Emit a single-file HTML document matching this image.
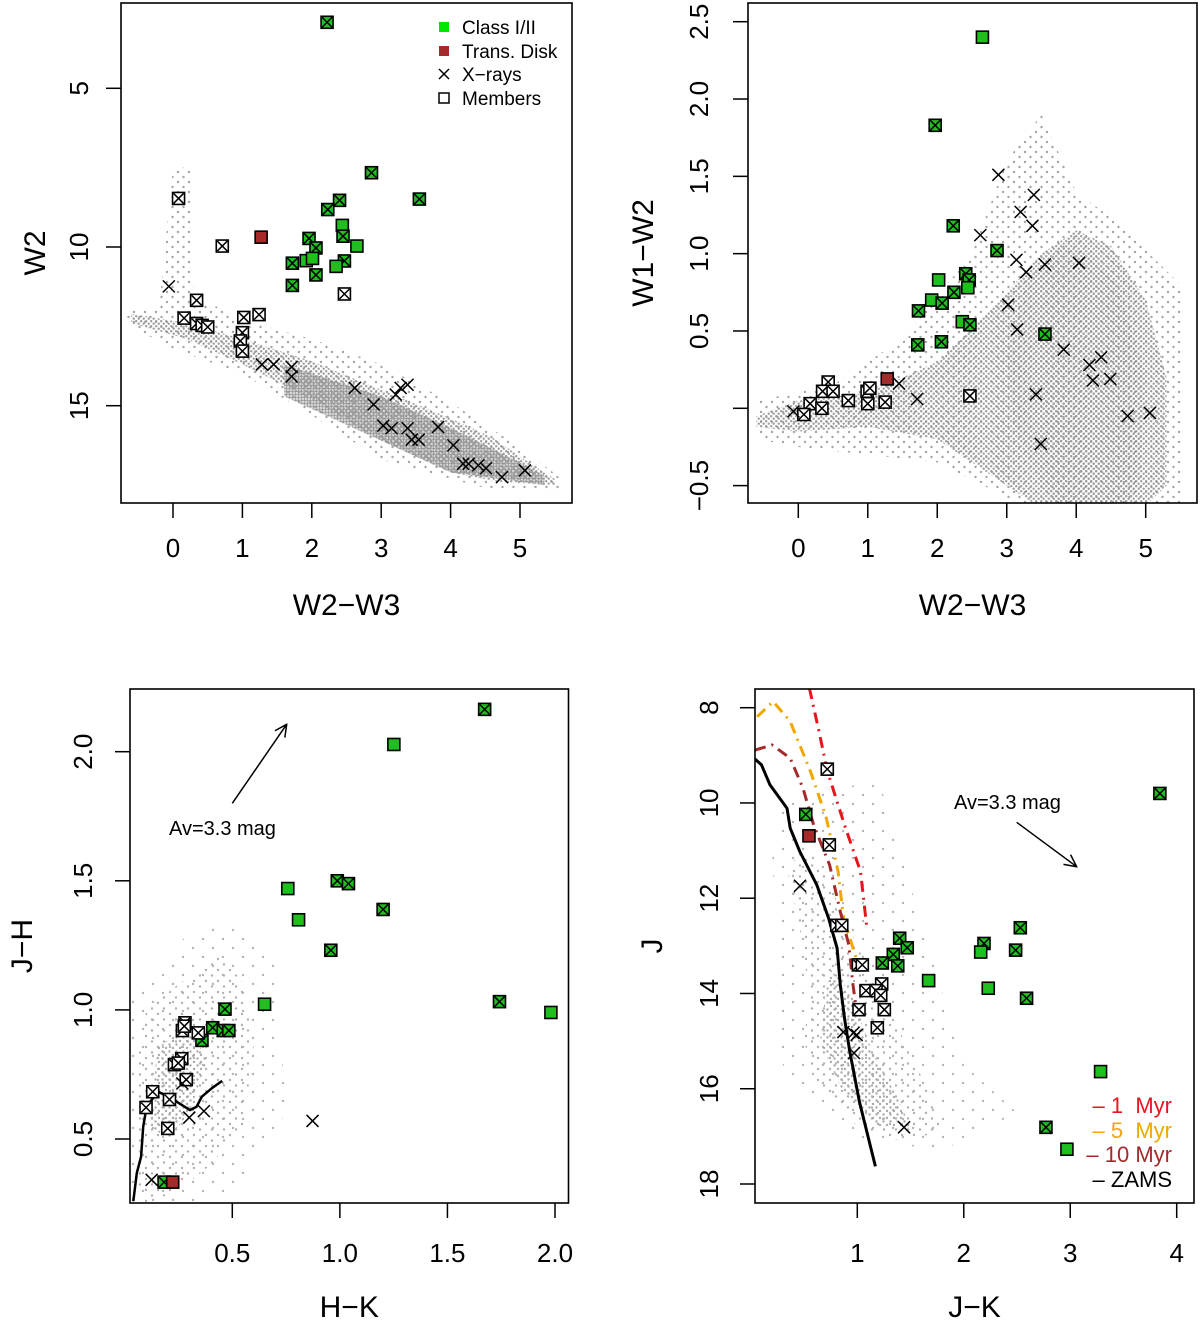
<!DOCTYPE html>
<html><head><meta charset="utf-8"><title>YSO diagrams</title>
<style>
html,body{margin:0;padding:0;background:#fff;}
svg{display:block;font-family:"Liberation Sans",Arial,sans-serif;}
</style></head>
<body>
<svg id="fig" width="1200" height="1326" viewBox="0 0 1200 1326" xmlns="http://www.w3.org/2000/svg">
<defs>
<pattern id="dotsDense" width="3" height="3" patternUnits="userSpaceOnUse"><circle cx="1.5" cy="1.5" r="1.35" fill="#989898"/></pattern>
<pattern id="dotsMed" width="5" height="5" patternUnits="userSpaceOnUse"><circle cx="1.2" cy="1.2" r="1.2" fill="#9c9c9c"/><circle cx="3.7" cy="3.7" r="1.2" fill="#9c9c9c"/></pattern>
<pattern id="dotsSparse" width="11" height="10" patternUnits="userSpaceOnUse"><circle cx="2" cy="2" r="1.2" fill="#a4a4a4"/><circle cx="7.5" cy="7" r="1.2" fill="#a4a4a4"/></pattern>
<pattern id="dotsLightMed" width="7" height="7" patternUnits="userSpaceOnUse"><circle cx="1.5" cy="1.5" r="1.2" fill="#aaaaaa"/><circle cx="5" cy="5" r="1.2" fill="#aaaaaa"/></pattern>
<pattern id="dotsLight" width="12" height="11" patternUnits="userSpaceOnUse"><circle cx="2" cy="2" r="1.2" fill="#b0b0b0"/><circle cx="8" cy="7.5" r="1.2" fill="#b0b0b0"/></pattern>
<pattern id="dotsVeryLight" width="20" height="18" patternUnits="userSpaceOnUse"><circle cx="3" cy="3" r="1.2" fill="#b4b4b4"/><circle cx="13" cy="12" r="1.2" fill="#b4b4b4"/></pattern>
<marker id="arrowHead" markerWidth="14" markerHeight="14" refX="13" refY="7" orient="auto" markerUnits="userSpaceOnUse"><path d="M1,1 L13,7 L1,13" fill="none" stroke="#000" stroke-width="1.5"/></marker>
</defs>
</svg>
<script>
// ---------- Panel 1: W2 vs W2-W3 ----------
const p1Types=['GX','GX','GX','GX','GX','G','GX','R','GX','G','GX','G','G','GX','GX','G','GX','GX',
'WX','WX','WX','WX','WX','WX','WX','WX','WX','WX','WX','WX','WX',
'X','X','X','X','X','X','X','X','X','X','X','X','X','X','X','X','X','X','X','X','X','X','X'];
const p1X=[2.22,2.86,3.55,2.40,2.23,2.44,2.45,1.27,1.96,2.65,2.06,1.92,2.01,1.72,2.47,2.35,2.06,1.72,
0.08,0.71,2.47,0.34,0.16,0.34,0.42,0.50,1.02,1.24,1.00,0.97,1.00,
-0.06,1.28,1.45,1.71,1.71,2.62,2.89,3.21,3.28,3.38,3.03,3.15,3.38,3.44,3.54,3.82,4.04,4.18,4.26,4.40,4.51,4.74,5.07];
const p1Y=[2.92,7.66,8.49,8.53,8.82,9.32,9.66,9.69,9.73,9.97,10.03,10.43,10.36,10.51,10.44,10.61,10.88,11.21,
8.47,9.97,11.48,11.68,12.24,12.41,12.47,12.52,12.22,12.13,12.70,12.96,13.28,
11.24,13.70,13.70,13.78,14.08,14.44,14.96,14.65,14.44,14.34,15.63,15.71,15.71,16.07,16.07,15.67,16.25,16.83,16.83,16.88,16.97,17.25,17.04];
const p1XTicks=[0,1,2,3,4,5];
const p1YTicks=[5,10,15];
const p1FieldSparseX=[-0.7,-0.2,0.0,0.25,0.3,1.0,2.0,3.0,4.0,5.0,5.6,5.6,4.5,3.0,2.0,1.0,0.0,-0.7];
const p1FieldSparseY=[12.0,11.9,7.5,7.5,11.5,12.3,12.9,13.7,14.9,16.3,17.3,17.7,17.6,16.7,15.3,14.0,13.2,12.4];
const p1FieldMedX=[-0.6,0.2,1.0,2.0,3.0,4.0,4.6,5.2,5.5,5.5,4.7,4.0,3.0,2.0,1.0,0.2,-0.6];
const p1FieldMedY=[12.1,12.4,12.9,13.6,14.5,15.4,16.0,16.9,17.3,17.5,17.4,17.1,16.1,14.8,13.7,12.9,12.4];
const p1FieldDenseX=[1.6,3.0,4.0,5.0,5.35,5.35,4.0,3.0,1.6];
const p1FieldDenseY=[13.7,14.7,15.7,16.8,17.2,17.5,17.1,16.1,14.7];

// ---------- Panel 2: W1-W2 vs W2-W3 ----------
const p2Types=['G','GX','GX','GX','G','GX','GX','G','GX','G','GX','GX','G','GX','GX','GX','GX','R',
'WX','WX','WX','WX','WX','WX','WX','WX','WX','WX','WX','WX',
'X','X','X','X','X','X','X','X','X','X','X','X','X','X','X','X','X','X','X','X','X','X','X'];
const p2X=[2.65,1.97,2.23,2.86,2.02,2.41,2.46,2.44,2.24,1.92,2.07,1.73,2.36,2.47,3.55,2.06,1.72,1.28,
0.43,0.35,0.50,0.17,0.08,0.34,0.72,0.99,1.03,1.00,1.25,2.47,
-0.07,1.45,1.71,2.88,3.39,3.20,3.37,2.62,3.14,3.28,3.55,4.04,3.02,3.15,3.82,4.19,4.36,4.24,4.49,3.42,4.74,5.06,3.49];
const p2Y=[2.40,1.83,1.18,1.02,0.83,0.87,0.83,0.78,0.75,0.70,0.68,0.63,0.56,0.54,0.48,0.43,0.41,0.19,
0.17,0.11,0.11,0.03,-0.04,0.00,0.05,0.11,0.13,0.03,0.04,0.08,
-0.02,0.16,0.06,1.51,1.38,1.27,1.18,1.12,0.96,0.88,0.93,0.94,0.67,0.51,0.38,0.28,0.33,0.18,0.19,0.09,-0.05,-0.03,-0.23];
const p2XTicks=[0,1,2,3,4,5];
const p2YTicks=[2.5,2.0,1.5,1.0,0.5,0.0,-0.5];
const p2YTickLabels=['2.5','2.0','1.5','1.0','0.5','','\u22120.5'];
const p2FieldSparseX=[-0.6,0.5,1.5,2.5,3.0,3.5,4.0,4.6,5.5,5.5,4.0,2.0,0.0,-0.6];
const p2FieldSparseY=[0.05,0.15,0.45,1.0,1.6,1.9,1.4,1.2,0.8,-0.8,-0.8,-0.35,-0.25,-0.2];
const p2FieldMedX=[-0.6,0.0,1.0,2.0,2.8,3.5,4.0,4.5,5.0,5.3,5.3,4.6,4.0,3.0,2.0,1.0,0.0,-0.6];
const p2FieldMedY=[-0.05,0.05,0.1,0.3,0.65,1.0,1.15,1.05,0.7,0.2,-0.5,-0.8,-0.8,-0.5,-0.2,-0.12,-0.15,-0.12];
const p2FieldDenseX=[3.3,3.8,4.2,4.6,5.0,4.9,4.5,4.0,3.5,3.1,3.0];
const p2FieldDenseY=[0.85,1.05,1.0,0.8,0.2,-0.5,-0.8,-0.75,-0.5,-0.1,0.35];

// ---------- Panel 3: J-H vs H-K ----------
const p3Types=['GX','G','G','GX','GX','GX','G','GX','GX','G','G','GX','GX','GX','GX','GX','GX','R',
'WX','WX','WX','WX','WX','WX','WX','WX','WX','WX','WX','WX',
'X','X','X','X','X'];
const p3X=[1.673,1.251,0.758,0.988,1.040,1.201,0.808,0.958,1.742,1.981,0.650,0.466,0.409,0.458,0.484,0.359,0.183,0.223,
0.280,0.268,0.342,0.277,0.265,0.231,0.249,0.286,0.130,0.208,0.099,0.200,
0.268,0.300,0.368,0.873,0.125];
const p3Y=[2.164,2.028,1.470,1.500,1.489,1.389,1.349,1.231,1.032,0.990,1.022,1.003,0.931,0.920,0.920,0.882,0.333,0.333,
0.950,0.920,0.911,0.937,0.811,0.788,0.794,0.730,0.683,0.653,0.622,0.541,
0.715,0.583,0.608,0.570,0.342];
const p3LineX=[0.040,0.056,0.076,0.086,0.098,0.118,0.156,0.218,0.303,0.334,0.358,0.404,0.453];
const p3LineY=[0.259,0.368,0.432,0.548,0.606,0.644,0.683,0.657,0.612,0.625,0.664,0.696,0.725];
const p3XTicks=[0.5,1.0,1.5,2.0];
const p3YTicks=[0.5,1.0,1.5,2.0];
const p3FieldSparseX=[0.03,0.03,0.3,0.5,0.7,0.75,0.5,0.2];
const p3FieldSparseY=[0.25,1.05,1.3,1.35,1.2,0.6,0.3,0.22];
const p3FieldMedX=[0.05,0.05,0.1,0.25,0.45,0.55,0.6,0.55,0.4,0.25,0.1];
const p3FieldMedY=[0.35,0.75,1.0,1.1,1.22,1.1,0.85,0.55,0.4,0.3,0.25];
const p3FieldDenseX=[0.12,0.15,0.3,0.38,0.3,0.2];
const p3FieldDenseY=[0.55,0.85,0.95,0.8,0.6,0.5];

// ---------- Panel 4: J vs J-K ----------
const p4Types=['GX','WX','GX','R','WX','WX','WX','GX','GX','GX','GX','G','GX','GX','GX','GX','WX','WX','G','G','GX',
'WX','WX','WX','WX','WX','WX','WX','G','GX','G','X','X','X','X','X','X'];
const p4X=[3.842,0.718,0.516,0.546,0.737,0.807,0.854,2.531,1.398,1.469,2.190,2.159,2.487,1.338,1.235,1.380,1.010,1.047,1.670,2.230,2.590,
1.082,1.229,1.176,1.220,1.254,1.016,1.188,3.285,2.772,2.969,0.462,0.869,0.994,0.963,0.969,1.439];
const p4Y=[9.80,9.29,10.24,10.69,10.88,12.57,12.57,12.62,12.84,13.04,12.95,13.13,13.09,13.18,13.36,13.42,13.40,13.40,13.73,13.89,14.10,
13.94,13.80,13.94,14.04,14.34,14.34,14.72,15.64,16.81,17.27,11.74,14.81,14.87,14.83,15.25,16.81];
const zamsX=[0.04,0.10,0.18,0.34,0.37,0.46,0.62,0.73,0.81,0.84,0.88,0.93,1.02,1.17];
const zamsY=[9.08,9.20,9.62,10.11,10.53,11.02,11.72,12.42,13.05,13.82,14.52,15.22,16.27,17.63];
const iso1X=[0.55,0.64,0.72,0.88,1.03,1.09];
const iso1Y=[7.59,8.50,9.34,10.46,11.44,12.63];
const iso5X=[0.06,0.21,0.37,0.56,0.71,0.82,0.87,0.99,1.04];
const iso5Y=[8.19,7.87,8.29,9.34,10.32,11.44,12.42,13.26,13.47];
const iso10X=[0.04,0.20,0.37,0.49,0.59,0.74,0.84,0.92,0.96,0.99];
const iso10Y=[8.89,8.78,9.06,9.69,10.46,11.30,12.28,12.98,13.82,14.31];
const p4XTicks=[1,2,3,4];
const p4YTicks=[8,10,12,14,16,18];
const p4FieldSparseX=[0.3,1.2,1.6,2.0,2.5,1.8,0.9,0.3,0.2];
const p4FieldSparseY=[10.0,9.5,12.5,15.5,16.5,17.3,17.0,15.5,11.0];
const p4FieldMedX=[0.45,0.65,0.9,1.1,1.4,1.7,1.8,1.4,1.0,0.6,0.5,0.55,0.45,0.35];
const p4FieldMedY=[11.0,11.3,12.5,13.5,14.8,16.2,16.9,17.1,16.8,15.8,15.0,14.0,12.5,11.5];
const p4FieldDenseX=[0.75,0.95,1.1,1.4,1.5,1.2,0.85,0.65,0.7];
const p4FieldDenseY=[13.5,14.0,15.0,16.3,16.8,16.8,16.0,15.0,14.0];

// ---------- helpers ----------
const NS='http://www.w3.org/2000/svg';
const svg=document.getElementById('fig');
function el(tag,attrs,parent){const e=document.createElementNS(NS,tag);for(const k in attrs)e.setAttribute(k,attrs[k]);(parent||svg).appendChild(e);return e;}
function lin(v0,p0,v1,p1){return v=>p0+(v-v0)*(p1-p0)/(v1-v0);}
const GREEN='#1fbf1f', RED='#a52a2a';

function drawField(g,sx,sy,xs,ys,fill,name){
  const pts=xs.map((x,i)=>sx(x).toFixed(1)+','+sy(ys[i]).toFixed(1)).join(' ');
  const p=el('polygon',{points:pts,fill:fill,stroke:'none'},g);
  
  
}
function drawMarker(g,type,cx,cy){
  const h=6;
  if(type!=='X'){
    const fill=type==='R'?RED:(type==='WX'?'#fff':GREEN);
    const r=el('rect',{x:cx-h,y:cy-h,width:2*h,height:2*h,fill:fill,stroke:'#000','stroke-width':1.6},g);
    
    
  }
  if(type==='X'||type==='GX'||type==='WX'){
    const k=type==='X'?6:5;
    const p=el('path',{d:`M${cx-k},${cy-k}L${cx+k},${cy+k}M${cx-k},${cy+k}L${cx+k},${cy-k}`,stroke:'#000','stroke-width':1.5,fill:'none'},g);
    
    
  }
}
function drawAxes(g,box,sx,sy,xt,yt,ytl,xLabY,yLabX,xTitle,yTitle,xTitleY,yTitleX){
  const [l,t,r,b]=box;
  const frame=el('rect',{x:l,y:t,width:r-l,height:b-t,fill:'none',stroke:'#000','stroke-width':1.6},g);
  
  
  const dec=xt.some(a=>a%1!==0);
  xt.forEach(v=>{
    const x=sx(v);
    const tk=el('line',{x1:x,x2:x,y1:b,y2:b+15,stroke:'#000','stroke-width':1.5},g);
    
    
    const tl=el('text',{x:x,y:xLabY,'text-anchor':'middle','font-size':26},g);
    tl.textContent=dec?v.toFixed(1):String(v);
    
    
  });
  yt.forEach((v,i)=>{
    const y=sy(v);
    const tk=el('line',{x1:l-15,x2:l,y1:y,y2:y,stroke:'#000','stroke-width':1.5},g);
    
    
    const lab=ytl?ytl[i]:String(v);
    if(lab!==''){
      const tl=el('text',{x:0,y:0,'text-anchor':'middle','font-size':26,transform:`translate(${yLabX},${y}) rotate(-90)`},g);
      tl.textContent=lab;
      
      
    }
  });
  const xtl=el('text',{x:(l+r)/2,y:xTitleY,'text-anchor':'middle','font-size':30},g);
  xtl.textContent=xTitle;
  
  
  const ytt=el('text',{x:0,y:0,'text-anchor':'middle','font-size':30,transform:`translate(${yTitleX},${(t+b)/2}) rotate(-90)`},g);
  ytt.textContent=yTitle;
  
  
}
function clipFor(id,box){
  const cp=el('clipPath',{id:id},svg.querySelector('defs'));
  el('rect',{x:box[0],y:box[1],width:box[2]-box[0],height:box[3]-box[1]},cp);
  return 'url(#'+id+')';
}
function makePanel(name,box){
  const g=el('g',{});
  
  
  const inner=el('g',{'clip-path':clipFor(name+'-clip',box)},g);
  return [g,inner];
}
function fields(inner,sx,sy,sX,sY,mX,mY,dX,dY,pats){
  drawField(inner,sx,sy,sX,sY,'url(#'+pats[0]+')','field-stars-sparse');
  drawField(inner,sx,sy,mX,mY,'url(#'+pats[1]+')','field-stars');
  drawField(inner,sx,sy,dX,dY,'url(#'+pats[2]+')','field-stars-dense');
}
function markers(inner,sx,sy,types,xs,ys){
  types.forEach((t,i)=>drawMarker(inner,t,sx(xs[i]),sy(ys[i])));
}
function line(inner,sx,sy,xs,ys,color,w,dash,name){
  const d=xs.map((x,i)=>(i?'L':'M')+sx(x).toFixed(1)+','+sy(ys[i]).toFixed(1)).join('');
  const p=el('path',{d:d,fill:'none',stroke:color,'stroke-width':w,'stroke-linejoin':'round'},inner);
  if(dash)p.setAttribute('stroke-dasharray',dash);
  
  
}
function label(g,x,y,txt,size,color,anchor,name){
  const t=el('text',{x:x,y:y,'font-size':size,fill:color||'#000','text-anchor':anchor||'start'},g);
  t.textContent=txt;
  
  
  return t;
}
const TOP_PATS=['dotsSparse','dotsMed','dotsDense'];
const BOT_PATS=['dotsVeryLight','dotsLight','dotsLightMed'];

// ---------- Panel 1 ----------
{
  const box=[121,3,572,503];
  const sx=lin(0,173,5,520), sy=lin(5,88.3,15,405.7);
  const [g,inner]=makePanel('panel-w2-vs-w2w3',box);
  fields(inner,sx,sy,p1FieldSparseX,p1FieldSparseY,p1FieldMedX,p1FieldMedY,p1FieldDenseX,p1FieldDenseY,TOP_PATS);
  markers(inner,sx,sy,p1Types,p1X,p1Y);
  drawAxes(g,box,sx,sy,p1XTicks,p1YTicks,null,557,88,'W2\u2212W3','W2',615,45);
  const lg=el('g',{},g);
  
  
  const ly=[27,51,74,98];
  let s=el('rect',{x:439,y:ly[0]-5,width:10,height:10,fill:'#00e600'},lg);
  
  
  s=el('rect',{x:439,y:ly[1]-5,width:10,height:10,fill:RED},lg);
  
  
  s=el('path',{d:`M439,${ly[2]-5}L449,${ly[2]+5}M439,${ly[2]+5}L449,${ly[2]-5}`,stroke:'#000','stroke-width':1.5},lg);
  
  
  s=el('rect',{x:439,y:ly[3]-5,width:10,height:10,fill:'none',stroke:'#000','stroke-width':1.5},lg);
  
  
  ['Class I/II','Trans. Disk','X\u2212rays','Members'].forEach((t,i)=>label(lg,462,ly[i]+7,t,19,'#000','start','legend-entry'));
}
// ---------- Panel 2 ----------
{
  const box=[748,3,1197,503];
  const sx=lin(0,798.3,5,1145.7), sy=lin(0,408.3,2.5,21.7);
  const [g,inner]=makePanel('panel-w1w2-vs-w2w3',box);
  fields(inner,sx,sy,p2FieldSparseX,p2FieldSparseY,p2FieldMedX,p2FieldMedY,p2FieldDenseX,p2FieldDenseY,['dotsSparse','dotsMed','dotsMed']);
  markers(inner,sx,sy,p2Types,p2X,p2Y);
  drawAxes(g,box,sx,sy,p2XTicks,p2YTicks,p2YTickLabels,557,708,'W2\u2212W3','W1\u2212W2',615,653);
}
// ---------- Panel 3 ----------
{
  const box=[130,689,568.5,1203];
  const sx=lin(0.5,232.3,2.0,555), sy=lin(0.5,1139,2.0,751.7);
  const [g,inner]=makePanel('panel-jh-vs-hk',box);
  fields(inner,sx,sy,p3FieldSparseX,p3FieldSparseY,p3FieldMedX,p3FieldMedY,p3FieldDenseX,p3FieldDenseY,BOT_PATS);
  line(inner,sx,sy,p3LineX,p3LineY,'#000',2.5,null,'main-sequence-locus');
  markers(inner,sx,sy,p3Types,p3X,p3Y);
  drawAxes(g,box,sx,sy,p3XTicks,p3YTicks,['0.5','1.0','1.5','2.0'],1262,92,'H\u2212K','J\u2212H',1317,32);
  const a=el('line',{x1:232.3,y1:803.3,x2:286.7,y2:724.3,stroke:'#000','stroke-width':1.5,'marker-end':'url(#arrowHead)'},g);
  
  
  label(g,169,835,'Av=3.3 mag',20,'#000','start','reddening-label');
}
// ---------- Panel 4 ----------
{
  const box=[755,689,1194,1203];
  const sx=lin(1,857.3,4,1176.7), sy=lin(8,707.7,18,1184);
  const [g,inner]=makePanel('panel-j-vs-jk',box);
  fields(inner,sx,sy,p4FieldSparseX,p4FieldSparseY,p4FieldMedX,p4FieldMedY,p4FieldDenseX,p4FieldDenseY,BOT_PATS);
  line(inner,sx,sy,iso1X,iso1Y,'#e8141e',3,'11 6 2 6','isochrone-1-myr');
  line(inner,sx,sy,iso5X,iso5Y,'#f0a800',3,'11 6 2 6','isochrone-5-myr');
  line(inner,sx,sy,iso10X,iso10Y,'#a52a2a',3,'11 6 2 6','isochrone-10-myr');
  line(inner,sx,sy,zamsX,zamsY,'#000',3,null,'zams-line');
  markers(inner,sx,sy,p4Types,p4X,p4Y);
  drawAxes(g,box,sx,sy,p4XTicks,p4YTicks,null,1262,718,'J\u2212K','J',1317,662);
  const a=el('line',{x1:1016.7,y1:822.3,x2:1076.7,y2:866.7,stroke:'#000','stroke-width':1.5,'marker-end':'url(#arrowHead)'},g);
  
  
  label(g,954,809,'Av=3.3 mag',20,'#000','start','reddening-label');
  const lg=el('g',{},g);
  
  
  label(lg,1172,1113,'\u2013 1  Myr',22,'#e8141e','end','legend-entry');
  label(lg,1172,1138,'\u2013 5  Myr',22,'#f0a800','end','legend-entry');
  label(lg,1172,1162,'\u2013 10 Myr',22,'#a52a2a','end','legend-entry');
  label(lg,1172,1187,'\u2013 ZAMS',22,'#000','end','legend-entry');
}
document.querySelectorAll('text').forEach(t=>t.style.whiteSpace='pre');
</script>
</body></html>
